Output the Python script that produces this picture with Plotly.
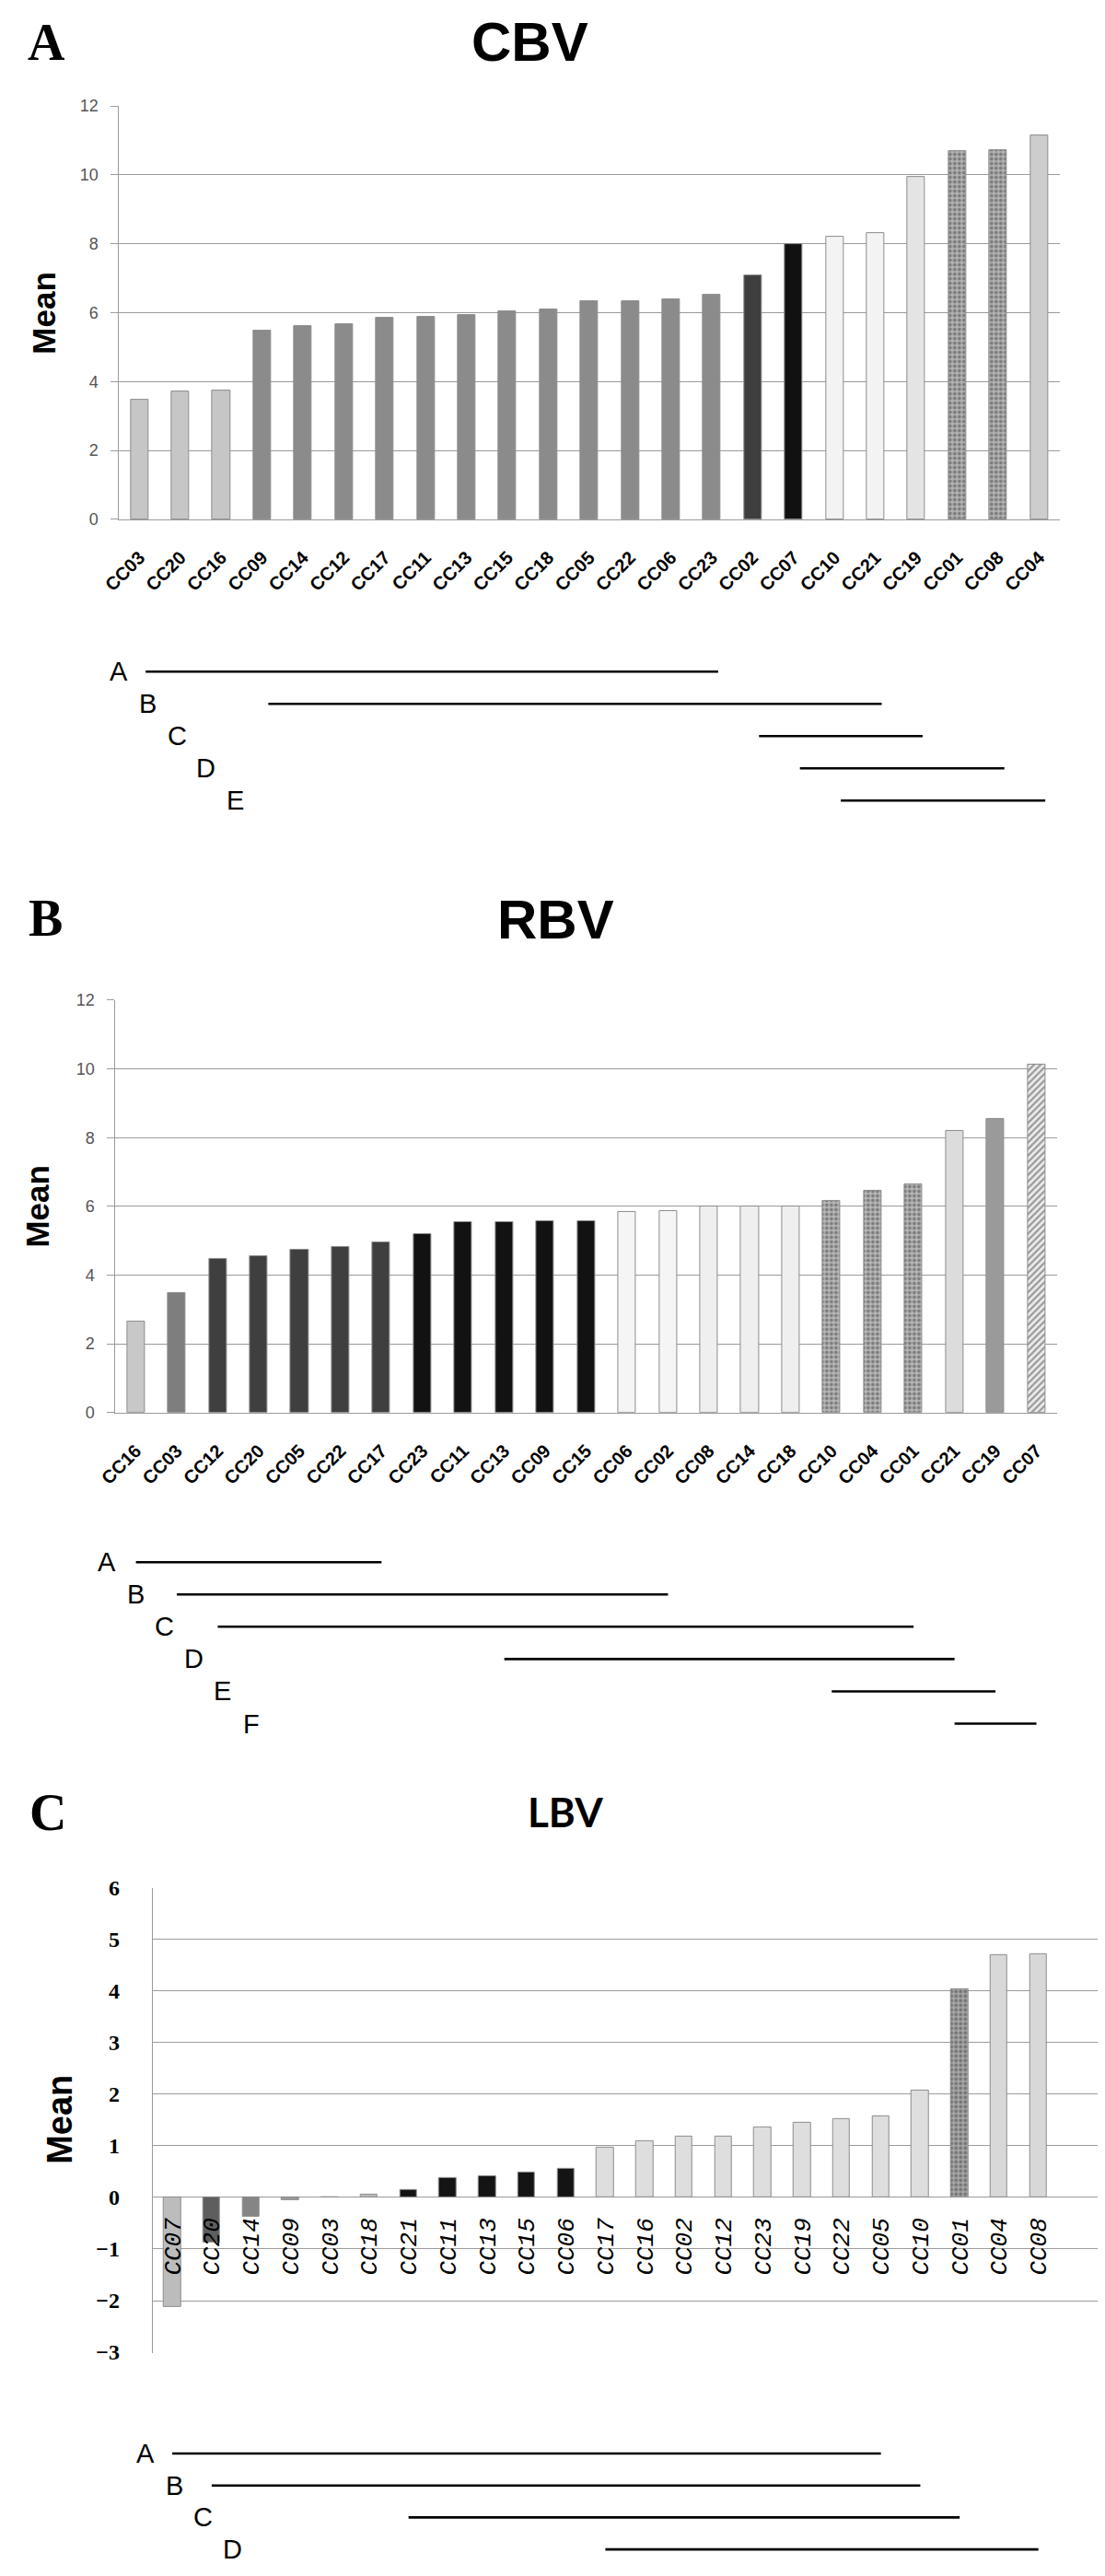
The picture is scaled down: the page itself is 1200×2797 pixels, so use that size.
import plotly.graph_objects as go

W, H = 1200, 2797          # page size the figure is photographed at
PAD = 8                    # default body margin of the html page
FIG_W, FIG_H = W - 2 * PAD, H - 2 * PAD

# ---------------- data ----------------
CBV_LABELS = ["CC03", "CC20", "CC16", "CC09", "CC14", "CC12", "CC17", "CC11",
              "CC13", "CC15", "CC18", "CC05", "CC22", "CC06", "CC23", "CC02",
              "CC07", "CC10", "CC21", "CC19", "CC01", "CC08", "CC04"]
CBV_MEAN = [3.46, 3.71, 3.73, 5.48, 5.62, 5.65, 5.86, 5.89, 5.92, 6.03, 6.10,
            6.32, 6.32, 6.38, 6.52, 7.07, 8.00, 8.20, 8.30, 9.95, 10.70, 10.72, 11.14]
CBV_SUBSETS = ["A", "B", "C", "D", "E"]
CBV_SUBSET_FROM = ["CC03", "CC09", "CC02", "CC07", "CC10"]
CBV_SUBSET_TO = ["CC23", "CC21", "CC19", "CC08", "CC04"]

RBV_LABELS = ["CC16", "CC03", "CC12", "CC20", "CC05", "CC22", "CC17", "CC23",
              "CC11", "CC13", "CC09", "CC15", "CC06", "CC02", "CC08", "CC14",
              "CC18", "CC10", "CC04", "CC01", "CC21", "CC19", "CC07"]
RBV_MEAN = [2.64, 3.47, 4.47, 4.56, 4.73, 4.82, 4.94, 5.18, 5.53, 5.53, 5.57,
            5.57, 5.83, 5.86, 6.00, 6.00, 6.00, 6.15, 6.45, 6.65, 8.20, 8.54, 10.12]
RBV_SUBSETS = ["A", "B", "C", "D", "E", "F"]
RBV_SUBSET_FROM = ["CC16", "CC03", "CC12", "CC13", "CC10", "CC21"]
RBV_SUBSET_TO = ["CC17", "CC02", "CC01", "CC21", "CC19", "CC07"]

LBV_LABELS = ["CC07", "CC20", "CC14", "CC09", "CC03", "CC18", "CC21", "CC11",
              "CC13", "CC15", "CC06", "CC17", "CC16", "CC02", "CC12", "CC23",
              "CC19", "CC22", "CC05", "CC10", "CC01", "CC04", "CC08"]
LBV_MEAN = [-2.12, -0.88, -0.38, -0.05, 0.0, 0.05, 0.14, 0.38, 0.42, 0.48, 0.55,
            0.97, 1.10, 1.18, 1.18, 1.35, 1.44, 1.52, 1.58, 2.08, 4.04, 4.69, 4.71]
LBV_SUBSETS = ["A", "B", "C", "D"]
LBV_SUBSET_FROM = ["CC07", "CC20", "CC21", "CC17"]
LBV_SUBSET_TO = ["CC05", "CC10", "CC01", "CC08"]

# ---------------- bar styles ----------------
CBV_FILL = (["#c6c6c6"] * 3 + ["#8b8b8b"] * 12 +
            ["#3e3e3e", "#111111", "#f3f3f3", "#f3f3f3", "#e4e4e4",
             "#b4b4b4", "#b4b4b4", "#cdcdcd"])
CBV_SHAPE = [""] * 20 + [".", ".", ""]

RBV_FILL = (["#c8c8c8", "#7e7e7e"] + ["#3f3f3f"] * 5 + ["#121212"] * 5 +
            ["#f5f5f5"] * 2 + ["#efefef"] * 3 + ["#b8b8b8"] * 3 +
            ["#dcdcdc", "#9a9a9a", "#ececec"])
RBV_SHAPE = [""] * 17 + [".", ".", ".", "", "", "/"]

LBV_FILL = (["#bcbcbc", "#5e5e5e", "#858585", "#9a9a9a", "#ffffff", "#bdbdbd"] +
            ["#141414"] * 5 + ["#dedede"] * 9 + ["#a8a8a8", "#d8d8d8", "#d8d8d8"])
LBV_SHAPE = [""] * 20 + [".", "", ""]

GRID = "#9b9b9b"


def _clip(v):
    return min(1.0, max(0.0, v))


def px_x(p):
    """page pixel -> figure paper x"""
    return (p - PAD) / FIG_W


def px_y(p):
    """page pixel -> figure paper y"""
    return 1 - (p - PAD) / FIG_H


fig = go.Figure()


def add_bars(ax, labels, means, fills, shapes):
    fig.add_trace(go.Bar(
        x=list(range(len(labels))), y=means, width=0.43,
        customdata=labels,
        hovertemplate="%{customdata}: %{y}<extra></extra>",
        marker=dict(
            color=fills,
            line=dict(color="#8c8c8c", width=1),
            pattern=dict(shape=shapes, fgcolor="#4a4a4a", size=5,
                         solidity=0.45, fillmode="overlay"),
        ),
        xaxis="x" + ax, yaxis="y" + ax, showlegend=False,
    ))


def add_subsets(xa, ya, labels, names, starts, ends, offset, letter_x0):
    idx = {c: i for i, c in enumerate(labels)}
    for k, (nm, a, b) in enumerate(zip(names, starts, ends)):
        fig.add_trace(go.Scatter(
            x=[idx[a] + offset, idx[b] + offset], y=[k, k], mode="lines",
            line=dict(color="black", width=2.6),
            xaxis=xa, yaxis=ya, showlegend=False, hoverinfo="skip",
        ))
        fig.add_annotation(
            text=nm, x=px_x(letter_x0 + 32 * k), xref="paper", y=k, yref=ya,
            showarrow=False, xanchor="center", yanchor="middle",
            font=dict(family="Liberation Sans, Arial", size=29, color="black"),
        )


add_bars("", CBV_LABELS, CBV_MEAN, CBV_FILL, CBV_SHAPE)
add_bars("2", RBV_LABELS, RBV_MEAN, RBV_FILL, RBV_SHAPE)
add_bars("3", LBV_LABELS, LBV_MEAN, LBV_FILL, LBV_SHAPE)

add_subsets("x", "y4", CBV_LABELS, CBV_SUBSETS, CBV_SUBSET_FROM, CBV_SUBSET_TO, 0.15, 112)
add_subsets("x2", "y5", RBV_LABELS, RBV_SUBSETS, RBV_SUBSET_FROM, RBV_SUBSET_TO, 0.0, 98)
add_subsets("x3", "y6", LBV_LABELS, LBV_SUBSETS, LBV_SUBSET_FROM, LBV_SUBSET_TO, 0.0, 141)


def cat_axis(left, right, labels, anchor, **kw):
    d = dict(
        domain=[_clip(px_x(left)), _clip(px_x(right))],
        range=[-0.5, len(labels) - 0.5],
        tickmode="array", tickvals=list(range(len(labels))), ticktext=labels,
        tickangle=-45, ticks="", showgrid=False, zeroline=False,
        showline=True, linecolor=GRID, anchor=anchor, ticklabelstandoff=21,
        tickfont=dict(family="Liberation Sans, Arial", size=20, color="black",
                      weight="bold"),
    )
    d.update(kw)
    return d


def val_axis(top, bottom, rng, dtick, anchor):
    return dict(
        domain=[_clip(px_y(bottom)), _clip(px_y(top))], range=rng, dtick=dtick,
        tick0=0, showgrid=True, gridcolor=GRID, gridwidth=1, zeroline=False,
        showline=True, linecolor=GRID, ticks="outside", ticklen=8,
        tickcolor=GRID, ticklabelstandoff=10, anchor=anchor,
        tickfont=dict(family="Liberation Sans, Arial", size=18, color="#555555"),
    )


def line_axis(top, bottom, row0, step, anchor):
    bottom = min(bottom, H - PAD)
    return dict(domain=[_clip(px_y(bottom)), _clip(px_y(top))],
                range=[(bottom - row0) / step, (top - row0) / step],
                visible=False, anchor=anchor)


# panel C: the plot reaches the right edge of the page; the category slot
# width (43.45 px) sets how much of the axis the 23 bars take
C_LEFT, C_RIGHT, C_SLOT = 149, W - PAD, 43.45
C_TOP, C_BOT, C_RANGE = 2056, 2565.5, [-3.01, 6]
c_zero = C_TOP + (C_RANGE[1] - 0) / (C_RANGE[1] - C_RANGE[0]) * (C_BOT - C_TOP)

fig.update_layout(
    width=FIG_W, height=FIG_H, margin=dict(l=0, r=0, t=0, b=0),
    paper_bgcolor="white", plot_bgcolor="white", bargap=0,
    xaxis=cat_axis(112, 1150, CBV_LABELS, "y"),
    yaxis=val_axis(103, 556, [0, 12], 2, "x"),
    xaxis2=cat_axis(108, 1147, RBV_LABELS, "y2"),
    yaxis2=val_axis(1083, 1535, [0, 12], 2, "x2"),
    xaxis3=cat_axis(C_LEFT, C_RIGHT, LBV_LABELS, "free",
                    range=[-0.5, -0.5 + (C_RIGHT - C_LEFT) / C_SLOT],
                    position=px_y(c_zero), showline=False,
                    tickangle=-90, ticklabelstandoff=16,
                    tickfont=dict(family="Liberation Mono, Courier New", size=26,
                                  color="black", style="italic")),
    yaxis3=dict(
        domain=[_clip(px_y(C_BOT)), _clip(px_y(C_TOP))], range=C_RANGE, dtick=1,
        tick0=0, showgrid=True, gridcolor=GRID, zeroline=False, showline=True,
        linecolor=GRID, ticks="", ticklabelstandoff=30, anchor="x3",
        tickfont=dict(family="Liberation Serif, Times New Roman", size=24,
                      color="black", weight="bold"),
    ),
    yaxis4=line_axis(700, 890, 723, 35.3, "x"),
    yaxis5=line_axis(1675, 1895, 1699, 35.4, "x2"),
    yaxis6=line_axis(2650, 2797, 2676, 35.0, "x3"),
)

# titles, panel letters, axis titles
for txt, x, y, fam, size in [
    ("CBV", 565, 33, "Liberation Sans Narrow, Liberation Sans, Arial", 60),
    ("RBV", 594, 995, "Liberation Sans Narrow, Liberation Sans, Arial", 60),
    ("LBV", 605, 1972, "Lato, Liberation Sans, Arial", 44),
    ("A", 32, 33, "Liberation Serif, Times New Roman", 56),
    ("B", 31, 993, "Liberation Serif, Times New Roman", 56),
    ("C", 33, 1973, "Liberation Serif, Times New Roman", 56),
]:
    fig.add_annotation(text=txt, x=px_x(x), y=px_y(y), xref="paper", yref="paper",
                       showarrow=False, xanchor="center", yanchor="middle",
                       font=dict(family=fam, size=size, color="black", weight="bold"))

for x, y, size in [(29, 330, 35), (22, 1309, 35), (47, 2310, 38)]:
    fig.add_annotation(text="Mean", x=px_x(x), y=px_y(y), xref="paper", yref="paper",
                       showarrow=False, textangle=-90, xanchor="center", yanchor="middle",
                       font=dict(family="Liberation Sans, Arial", size=size,
                                 color="black", weight="bold"))

fig.write_html("out.html")
